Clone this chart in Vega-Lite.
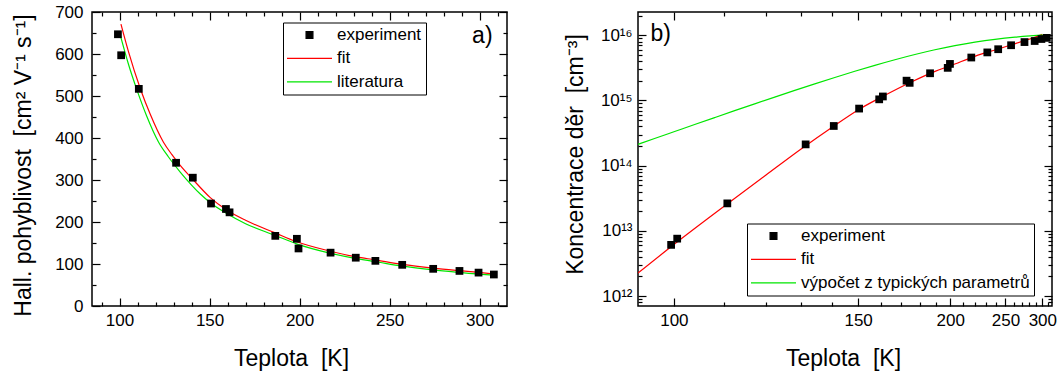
{
  "$schema": "https://vega.github.io/schema/vega-lite/v6.json",
  "autosize": {"type": "pad"},
  "padding": {"left": 11, "top": 2, "right": 0, "bottom": 0},
  "background": "white",
  "config": {
    "font": "Liberation Sans",
    "view": {"stroke": "black", "strokeWidth": 1.5},
    "axis": {"labelFont": "Liberation Sans", "titleFont": "Liberation Sans", "labelColor": "black", "titleColor": "black", "tickColor": "black", "domain": false, "grid": false, "labelFontSize": 17, "titleFontSize": 23, "titleFontWeight": "normal", "tickWidth": 1.2, "labelFlush": false, "labelOverlap": false},
    "legend": {"labelFont": "Liberation Sans", "labelFontSize": 17, "labelColor": "black", "labelLimit": 400, "columnPadding": 0}
  },
  "spacing": 131,
  "bounds": "flush",
  "resolve": {"scale": {"color": "independent", "x": "independent", "y": "independent"}, "legend": {"color": "independent"}},
  "hconcat": [
    {
      "width": 415,
      "height": 294,
      "resolve": {"axis": {"x": "independent", "y": "independent"}},
      "layer": [
        {
          "data": {"values": [
            {"T": 100.8, "mu": 671, "series": "fit"}, {"T": 105, "mu": 605, "series": "fit"}, {"T": 111.5, "mu": 518, "series": "fit"}, {"T": 117, "mu": 457, "series": "fit"}, {"T": 124.4, "mu": 390, "series": "fit"}, {"T": 129, "mu": 361, "series": "fit"}, {"T": 133.7, "mu": 335, "series": "fit"}, {"T": 140.6, "mu": 302, "series": "fit"}, {"T": 150.4, "mu": 258, "series": "fit"}, {"T": 159.3, "mu": 229, "series": "fit"}, {"T": 170, "mu": 204, "series": "fit"}, {"T": 186.5, "mu": 174, "series": "fit"}, {"T": 198.3, "mu": 153, "series": "fit"}, {"T": 216.7, "mu": 131, "series": "fit"}, {"T": 231.5, "mu": 117, "series": "fit"}, {"T": 241.7, "mu": 110, "series": "fit"}, {"T": 257, "mu": 99, "series": "fit"}, {"T": 274.3, "mu": 90, "series": "fit"}, {"T": 289, "mu": 84, "series": "fit"}, {"T": 299.6, "mu": 80, "series": "fit"}, {"T": 308.5, "mu": 76, "series": "fit"}
          ]},
          "mark": {"type": "line", "strokeWidth": 1.2, "clip": true, "interpolate": "monotone"},
          "encoding": {
            "x": {"field": "T", "type": "quantitative", "scale": {"domain": [84.7, 315.2], "nice": false, "zero": false},
              "axis": {"orient": "top", "values": [90,100,110,120,130,140,150,160,170,180,190,200,210,220,230,240,250,260,270,280,290,300,310], "labels": false, "title": null, "tickSize": {"condition": {"test": "datum.value % 50 === 0", "value": -8}, "value": -4}}},
            "y": {"field": "mu", "type": "quantitative", "scale": {"domain": [0, 700], "nice": false, "zero": false},
              "axis": {"orient": "right", "values": [0,50,100,150,200,250,300,350,400,450,500,550,600,650,700], "labels": false, "title": null, "tickSize": {"condition": {"test": "datum.value % 100 === 0", "value": -8}, "value": -4}}},
            "color": {"field": "series", "type": "nominal", "scale": {"domain": ["experiment", "fit", "literatura"], "range": ["black", "#ff0000", "#00e600"]},
              "legend": {"orient": "none", "legendX": 191, "legendY": 10.5, "title": null, "strokeColor": "black", "padding": 4, "symbolSize": 81, "symbolOffset": 14, "labelOffset": 19, "rowPadding": 5.4, "columnPadding": 0, "labelFontSize": 17, "labelFont": "Liberation Sans", "labelLimit": 400, "symbolStrokeWidth": 1.3,
                "encoding": {"symbols": {
                  "shape": {"condition": {"test": "datum.value === 'experiment'", "value": "M-0.75,-0.75H0.75V0.75H-0.75Z"}, "value": "M-5,0H5"},
                  "fill": {"condition": {"test": "datum.value === 'experiment'", "value": "black"}, "value": "transparent"},
                  "stroke": {"condition": [{"test": "datum.value === 'fit'", "value": "#ff0000"}, {"test": "datum.value === 'literatura'", "value": "#00e600"}], "value": "black"}
                }}}}
          }
        },
        {
          "data": {"values": [
            {"T": 100.4, "mu": 645, "series": "literatura"}, {"T": 105, "mu": 575, "series": "literatura"}, {"T": 109.7, "mu": 514, "series": "literatura"}, {"T": 115, "mu": 453, "series": "literatura"}, {"T": 121.7, "mu": 390, "series": "literatura"}, {"T": 127, "mu": 356, "series": "literatura"}, {"T": 133.7, "mu": 319, "series": "literatura"}, {"T": 140, "mu": 288, "series": "literatura"}, {"T": 145, "mu": 266, "series": "literatura"}, {"T": 150.4, "mu": 246, "series": "literatura"}, {"T": 159.3, "mu": 221, "series": "literatura"}, {"T": 170, "mu": 196, "series": "literatura"}, {"T": 186.5, "mu": 168, "series": "literatura"}, {"T": 198.3, "mu": 148, "series": "literatura"}, {"T": 216.7, "mu": 126, "series": "literatura"}, {"T": 231.5, "mu": 113, "series": "literatura"}, {"T": 241.7, "mu": 106, "series": "literatura"}, {"T": 257, "mu": 95, "series": "literatura"}, {"T": 274.3, "mu": 86, "series": "literatura"}, {"T": 289, "mu": 80, "series": "literatura"}, {"T": 299.6, "mu": 76, "series": "literatura"}, {"T": 308.5, "mu": 73.5, "series": "literatura"}
          ]},
          "mark": {"type": "line", "strokeWidth": 1.2, "clip": true, "interpolate": "monotone"},
          "encoding": {
            "x": {"field": "T", "type": "quantitative", "scale": {"domain": [84.7, 315.2], "nice": false, "zero": false}, "axis": null},
            "y": {"field": "mu", "type": "quantitative", "scale": {"domain": [0, 700], "nice": false, "zero": false}, "axis": null},
            "color": {"field": "series", "type": "nominal", "scale": {"domain": ["experiment", "fit", "literatura"], "range": ["black", "#ff0000", "#00e600"]}}
          }
        },
        {
          "data": {"values": [
            {"T": 99.1, "mu": 647, "series": "experiment"}, {"T": 100.9, "mu": 597, "series": "experiment"}, {"T": 110.7, "mu": 517, "series": "experiment"}, {"T": 131.4, "mu": 341, "series": "experiment"}, {"T": 140.7, "mu": 305.5, "series": "experiment"}, {"T": 150.8, "mu": 244, "series": "experiment"}, {"T": 159.1, "mu": 231, "series": "experiment"}, {"T": 161.1, "mu": 223, "series": "experiment"}, {"T": 186.5, "mu": 167, "series": "experiment"}, {"T": 198.5, "mu": 160, "series": "experiment"}, {"T": 199.4, "mu": 137, "series": "experiment"}, {"T": 217.2, "mu": 127, "series": "experiment"}, {"T": 231.2, "mu": 115, "series": "experiment"}, {"T": 242.1, "mu": 107.5, "series": "experiment"}, {"T": 257, "mu": 98, "series": "experiment"}, {"T": 274.2, "mu": 88.5, "series": "experiment"}, {"T": 288.8, "mu": 83.5, "series": "experiment"}, {"T": 299.4, "mu": 79.5, "series": "experiment"}, {"T": 307.9, "mu": 75, "series": "experiment"}
          ]},
          "mark": {"type": "square", "size": 60, "opacity": 1},
          "encoding": {
            "x": {"field": "T", "type": "quantitative", "scale": {"domain": [84.7, 315.2], "nice": false, "zero": false},
              "axis": {"orient": "bottom", "values": [90,100,110,120,130,140,150,160,170,180,190,200,210,220,230,240,250,260,270,280,290,300,310], "labelExpr": "datum.value % 50 === 0 ? datum.label : ''", "tickSize": {"condition": {"test": "datum.value % 50 === 0", "value": -8}, "value": -4}, "labelPadding": 14, "title": "Teplota\u00a0 [K]", "titleX": 199, "titleY": 52, "titleBaseline": "middle", "titleAlign": "center"}},
            "y": {"field": "mu", "type": "quantitative", "scale": {"domain": [0, 700], "nice": false, "zero": false},
              "axis": {"orient": "left", "values": [0,50,100,150,200,250,300,350,400,450,500,550,600,650,700], "labelExpr": "datum.value % 100 === 0 ? datum.label : ''", "tickSize": {"condition": {"test": "datum.value % 100 === 0", "value": -8}, "value": -4}, "labelPadding": 17, "title": "Hall. pohyblivost\u00a0 [cm²\u00a0V⁻¹\u00a0s⁻¹]", "titleX": -69, "titleY": 153, "titleAngle": 270, "titleBaseline": "middle", "titleAlign": "center"}},
            "color": {"field": "series", "type": "nominal", "scale": {"domain": ["experiment", "fit", "literatura"], "range": ["black", "#ff0000", "#00e600"]}}
          }
        },
        {
          "data": {"values": [{"T": 301.5, "mu": 642, "label": "a)"}]},
          "mark": {"type": "text", "fontSize": 23, "font": "Liberation Sans", "align": "center", "baseline": "middle", "color": "black"},
          "encoding": {
            "x": {"field": "T", "type": "quantitative", "scale": {"domain": [84.7, 315.2], "nice": false, "zero": false}, "axis": null},
            "y": {"field": "mu", "type": "quantitative", "scale": {"domain": [0, 700], "nice": false, "zero": false}, "axis": null},
            "text": {"field": "label"}
          }
        }
      ]
    },
    {
      "width": 414,
      "height": 294,
      "resolve": {"axis": {"x": "independent", "y": "independent"}},
      "layer": [
        {
          "data": {"values": [
            {"T": 93.9, "p": 2.25e12, "series": "fit"}, {"T": 100, "p": 6.17e12, "series": "fit"}, {"T": 110, "p": 2.38e13, "series": "fit"}, {"T": 120, "p": 7.19e13, "series": "fit"}, {"T": 130, "p": 1.82e14, "series": "fit"}, {"T": 140, "p": 3.86e14, "series": "fit"}, {"T": 150, "p": 7.16e14, "series": "fit"}, {"T": 160, "p": 1.12e15, "series": "fit"}, {"T": 175, "p": 1.905e15, "series": "fit"}, {"T": 190, "p": 2.82e15, "series": "fit"}, {"T": 200, "p": 3.39e15, "series": "fit"}, {"T": 220, "p": 4.79e15, "series": "fit"}, {"T": 240, "p": 6.03e15, "series": "fit"}, {"T": 260, "p": 7.33e15, "series": "fit"}, {"T": 280, "p": 8.71e15, "series": "fit"}, {"T": 290, "p": 9.44e15, "series": "fit"}, {"T": 300, "p": 1.035e16, "series": "fit"}
          ]},
          "mark": {"type": "line", "strokeWidth": 1.2, "clip": true, "interpolate": "monotone"},
          "encoding": {
            "x": {"field": "T", "type": "quantitative", "scale": {"type": "pow", "exponent": -1, "domain": [93.9, 316.6], "nice": false, "zero": false},
              "axis": {"orient": "top", "values": [100,110,120,130,140,150,160,170,180,190,200,210,220,230,240,250,260,270,280,290,300,310], "labels": false, "title": null, "tickSize": {"condition": {"test": "datum.value % 50 === 0", "value": -8}, "value": -4}}},
            "y": {"field": "p", "type": "quantitative", "scale": {"type": "log", "domain": [7.05e11, 2.27e16], "nice": false, "zero": false},
              "axis": {"orient": "right", "values": [8e11,9e11,1e12,2e12,3e12,4e12,5e12,6e12,7e12,8e12,9e12,1e13,2e13,3e13,4e13,5e13,6e13,7e13,8e13,9e13,1e14,2e14,3e14,4e14,5e14,6e14,7e14,8e14,9e14,1e15,2e15,3e15,4e15,5e15,6e15,7e15,8e15,9e15,1e16,2e16], "labels": false, "title": null, "tickSize": {"condition": {"test": "abs(log(datum.value)/LN10 - round(log(datum.value)/LN10)) < 1e-6", "value": -8}, "value": -4}}},
            "color": {"field": "series", "type": "nominal", "scale": {"domain": ["experiment", "fit", "výpočet z typických parametrů"], "range": ["black", "#ff0000", "#00e600"]},
              "legend": {"orient": "none", "legendX": 109, "legendY": 211.5, "title": null, "strokeColor": "black", "padding": 4, "symbolSize": 81, "symbolOffset": 14, "labelOffset": 19, "rowPadding": 5.4, "columnPadding": 0, "labelFontSize": 17, "labelFont": "Liberation Sans", "labelLimit": 400, "symbolStrokeWidth": 1.3,
                "encoding": {"symbols": {
                  "shape": {"condition": {"test": "datum.value === 'experiment'", "value": "M-0.75,-0.75H0.75V0.75H-0.75Z"}, "value": "M-5,0H5"},
                  "fill": {"condition": {"test": "datum.value === 'experiment'", "value": "black"}, "value": "transparent"},
                  "stroke": {"condition": [{"test": "datum.value === 'fit'", "value": "#ff0000"}, {"test": "datum.value !== 'experiment'", "value": "#00e600"}], "value": "black"}
                }}}}
          }
        },
        {
          "data": {"values": [
            {"T": 93.88, "p": 2.117e14, "series": "výpočet z typických parametrů"}, {"T": 96.62, "p": 2.605e14, "series": "výpočet z typických parametrů"}, {"T": 100.13, "p": 3.336e14, "series": "výpočet z typických parametrů"}, {"T": 103.9, "p": 4.27e14, "series": "výpočet z typických parametrů"}, {"T": 107.96, "p": 5.456e14, "series": "výpočet z typických parametrů"}, {"T": 112.35, "p": 6.964e14, "series": "výpočet z typických parametrů"}, {"T": 117.12, "p": 8.867e14, "series": "výpočet z typických parametrů"}, {"T": 122.31, "p": 1.126e15, "series": "výpočet z typických parametrů"}, {"T": 127.99, "p": 1.425e15, "series": "výpočet z typických parametrů"}, {"T": 134.21, "p": 1.796e15, "series": "výpočet z typických parametrů"}, {"T": 141.07, "p": 2.251e15, "series": "výpočet z typických parametrů"}, {"T": 148.67, "p": 2.8e15, "series": "výpočet z typických parametrů"}, {"T": 157.13, "p": 3.453e15, "series": "výpočet z typických parametrů"}, {"T": 166.62, "p": 4.21e15, "series": "výpočet z typických parametrů"}, {"T": 177.32, "p": 5.06e15, "series": "výpočet z typických parametrů"}, {"T": 189.49, "p": 5.98e15, "series": "výpočet z typických parametrů"}, {"T": 203.46, "p": 6.925e15, "series": "výpočet z typických parametrů"}, {"T": 219.66, "p": 7.84e15, "series": "výpočet z typických parametrů"}, {"T": 238.65, "p": 8.663e15, "series": "výpočet z typických parametrů"}, {"T": 261.24, "p": 9.351e15, "series": "výpočet z typických parametrů"}, {"T": 281.2, "p": 9.767e15, "series": "výpočet z typických parametrů"}, {"T": 301.1, "p": 1.0058e16, "series": "výpočet z typických parametrů"}
          ]},
          "mark": {"type": "line", "strokeWidth": 1.2, "clip": true, "interpolate": "monotone"},
          "encoding": {
            "x": {"field": "T", "type": "quantitative", "scale": {"type": "pow", "exponent": -1, "domain": [93.9, 316.6], "nice": false, "zero": false}, "axis": null},
            "y": {"field": "p", "type": "quantitative", "scale": {"type": "log", "domain": [7.05e11, 2.27e16], "nice": false, "zero": false}, "axis": null},
            "color": {"field": "series", "type": "nominal", "scale": {"domain": ["experiment", "fit", "výpočet z typických parametrů"], "range": ["black", "#ff0000", "#00e600"]}}
          }
        },
        {
          "data": {"values": [
            {"T": 99.5, "p": 6.1e12, "series": "experiment"}, {"T": 100.6, "p": 7.6e12, "series": "experiment"}, {"T": 110.7, "p": 2.64e13, "series": "experiment"}, {"T": 131.3, "p": 2.12e14, "series": "experiment"}, {"T": 140.7, "p": 4.06e14, "series": "experiment"}, {"T": 150.4, "p": 7.5e14, "series": "experiment"}, {"T": 159.1, "p": 1.04e15, "series": "experiment"}, {"T": 160.8, "p": 1.15e15, "series": "experiment"}, {"T": 172.7, "p": 2.01e15, "series": "experiment"}, {"T": 174.4, "p": 1.86e15, "series": "experiment"}, {"T": 186.4, "p": 2.61e15, "series": "experiment"}, {"T": 198.2, "p": 3.16e15, "series": "experiment"}, {"T": 199.8, "p": 3.63e15, "series": "experiment"}, {"T": 216.5, "p": 4.55e15, "series": "experiment"}, {"T": 231, "p": 5.45e15, "series": "experiment"}, {"T": 242, "p": 6.1e15, "series": "experiment"}, {"T": 256.5, "p": 7.02e15, "series": "experiment"}, {"T": 273.5, "p": 7.85e15, "series": "experiment"}, {"T": 288, "p": 8.15e15, "series": "experiment"}, {"T": 298.5, "p": 8.75e15, "series": "experiment"}, {"T": 307.5, "p": 9.1e15, "series": "experiment"}
          ]},
          "mark": {"type": "square", "size": 60, "opacity": 1},
          "encoding": {
            "x": {"field": "T", "type": "quantitative", "scale": {"type": "pow", "exponent": -1, "domain": [93.9, 316.6], "nice": false, "zero": false},
              "axis": {"orient": "bottom", "values": [100,110,120,130,140,150,160,170,180,190,200,210,220,230,240,250,260,270,280,290,300,310], "labelExpr": "datum.value % 50 === 0 ? datum.label : ''", "tickSize": {"condition": {"test": "datum.value % 50 === 0", "value": -8}, "value": -4}, "labelPadding": 14, "title": "Teplota\u00a0 [K]", "titleX": 205, "titleY": 52, "titleBaseline": "middle", "titleAlign": "center"}},
            "y": {"field": "p", "type": "quantitative", "scale": {"type": "log", "domain": [7.05e11, 2.27e16], "nice": false, "zero": false},
              "axis": {"orient": "left", "values": [8e11,9e11,1e12,2e12,3e12,4e12,5e12,6e12,7e12,8e12,9e12,1e13,2e13,3e13,4e13,5e13,6e13,7e13,8e13,9e13,1e14,2e14,3e14,4e14,5e14,6e14,7e14,8e14,9e14,1e15,2e15,3e15,4e15,5e15,6e15,7e15,8e15,9e15,1e16,2e16], "labelExpr": "abs(log(datum.value)/LN10 - round(log(datum.value)/LN10)) < 1e-6 ? ['10¹²','10¹³','10¹⁴','10¹⁵','10¹⁶'][round(log(datum.value)/LN10) - 12] : ''", "tickSize": {"condition": {"test": "abs(log(datum.value)/LN10 - round(log(datum.value)/LN10)) < 1e-6", "value": -8}, "value": -4}, "labelPadding": 14, "title": "Koncentrace děr\u00a0 [cm⁻³]", "titleX": -63, "titleY": 142, "titleAngle": 270, "titleBaseline": "middle", "titleAlign": "center"}},
            "color": {"field": "series", "type": "nominal", "scale": {"domain": ["experiment", "fit", "výpočet z typických parametrů"], "range": ["black", "#ff0000", "#00e600"]}}
          }
        },
        {
          "data": {"values": [{"T": 97.65, "p": 1.03e16, "label": "b)"}]},
          "mark": {"type": "text", "fontSize": 23, "font": "Liberation Sans", "align": "center", "baseline": "middle", "color": "black"},
          "encoding": {
            "x": {"field": "T", "type": "quantitative", "scale": {"type": "pow", "exponent": -1, "domain": [93.9, 316.6], "nice": false, "zero": false}, "axis": null},
            "y": {"field": "p", "type": "quantitative", "scale": {"type": "log", "domain": [7.05e11, 2.27e16], "nice": false, "zero": false}, "axis": null},
            "text": {"field": "label"}
          }
        }
      ]
    }
  ]
}
